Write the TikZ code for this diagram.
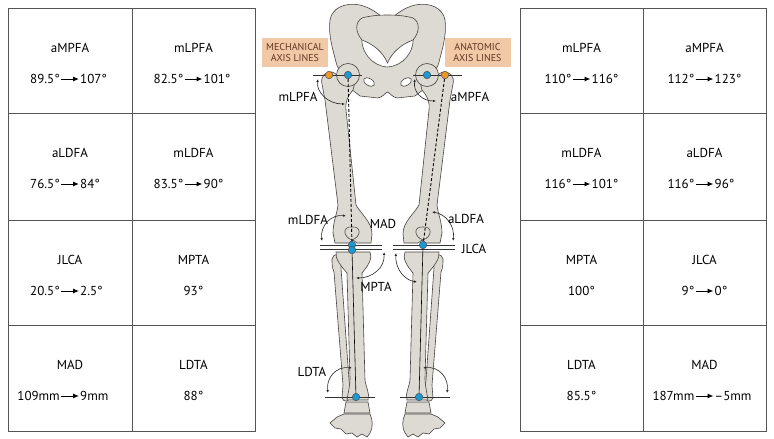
\documentclass[tikz,border=0pt]{standalone}
\usepackage{fontspec}
\setmainfont{PT Sans}
\usetikzlibrary{arrows.meta,positioning,calc}
\definecolor{bonefill}{RGB}{221,218,211}
\definecolor{boneline}{RGB}{70,67,65}
\definecolor{gridgray}{RGB}{85,85,85}
\definecolor{peach}{RGB}{242,201,167}
\definecolor{boxtext}{RGB}{95,55,35}
\definecolor{jointblue}{RGB}{28,152,210}
\definecolor{trochorange}{RGB}{236,152,40}
\tikzset{
    lbl/.style = {font=\fontsize{13}{15}\selectfont, text=black, inner sep=1pt},
    val/.style = {font=\fontsize{13}{15}\selectfont, text=black, inner sep=1pt},
    tarrow/.style = {-{Latex[length=6pt,width=5pt]}, line width=1pt},
    tablegrid/.style = {draw=gridgray, line width=0.9pt},
    bone/.style = {fill=bonefill, draw=boneline, line width=0.6pt},
    hole/.style = {fill=white, draw=boneline, line width=0.6pt},
    axisline/.style = {draw=black!80, line width=0.8pt},
    axisdash/.style = {draw=black, line width=0.9pt, dash pattern=on 3pt off 2pt},
    joint/.style = {circle, fill=jointblue, draw=black!70, line width=0.5pt, minimum size=7.5pt, inner sep=0pt},
    troch/.style = {joint, fill=trochorange},
    angarrow/.style = {{Latex[length=3pt,width=2.5pt]}-{Latex[length=3pt,width=2.5pt]}, line width=0.6pt, black!85},
    axisbox/.style = {fill=peach, text=boxtext, align=center, minimum width=66pt,
        minimum height=29pt, inner sep=1pt, font=\fontsize{10}{11}\selectfont}
}
% cell with a change: name, x, top, label, from, to
\newcommand{\valcell}[6]{%
    \node[lbl] (#1) at (#2,#3+40) {#4};
    \node[val,anchor=east] (#1from) at (#2-9,#3+71) {#5};
    \node[val,anchor=west] (#1to) at (#2+9,#3+71) {#6};
    \draw[tarrow] (#1from) -- (#1to);}
% cell with one value
\newcommand{\onecell}[5]{%
    \node[lbl] (#1) at (#2,#3+40) {#4};
    \node[val] (#1val) at (#2,#3+71) {#5};}
% bones of the left leg, mirrored for the right one
\newcommand{\legbones}{%
    \path[bone] (322,84) .. controls (320,76) and (326,71) .. (332,72) .. controls (337,73) and (339,78) .. (340,83)
        -- (343,72) -- (356,78) -- (353,90) .. controls (348,96) and (345,101) .. (346,110) -- (356,205)
        .. controls (361,214) and (372,222) .. (372,234) -- (371,243) -- (357,243) -- (353,240) -- (349,243)
        -- (335,243) -- (333,233) .. controls (333,222) and (337,214) .. (338,205) -- (325,100) -- cycle;
    \draw[boneline, line width=0.6pt] (352,240) .. controls (343,237) and (342,226) .. (352,227)
        .. controls (362,226) and (361,237) .. (352,240);
    \path[bone] (332,259) .. controls (333,253) and (341,253) .. (342,258) -- (341,268) -- (349,380) -- (351,396)
        .. controls (349,402) and (344,403) .. (342,398) -- (343,385) -- (334,272) .. controls (332,268) and (332,263) .. (332,259) -- cycle;
    \path[bone] (336,252) -- (370,252) .. controls (373,258) and (368,266) .. (362,273) -- (365,380)
        .. controls (366,388) and (370,393) .. (368,400) -- (347,400) .. controls (348,393) and (350,386) .. (350,378)
        -- (347,273) .. controls (341,266) and (335,259) .. (336,252) -- cycle;
    \path[bone] (346,402) -- (368,402) -- (370,413) -- (344,413) -- cycle;
    \path[bone] (344,414) -- (370,414) .. controls (373,420) and (373,428) .. (370,433) -- (367,437) -- (362,434)
        -- (357,437) -- (352,433) -- (346,434) -- (341,429) -- (335,428) -- (330,423) -- (337,417) -- cycle;}

\begin{document}
\begin{tikzpicture}[x=1pt, y=-1pt]
    \path[fill=white, use as bounding box] (0,0) rectangle (774,439);
    % left table
    \draw[tablegrid] (8,8) rectangle (255,431);
    \draw[tablegrid] (132,8) -- (132,431);
    \foreach \y in {113,220,325} \draw[tablegrid] (8,\y) -- (255,\y);
    \valcell{laMPFA}{70}{8}{aMPFA}{89.5°}{107°}
    \valcell{lmLPFA}{193.5}{8}{mLPFA}{82.5°}{101°}
    \valcell{laLDFA}{70}{113}{aLDFA}{76.5°}{84°}
    \valcell{lmLDFA}{193.5}{113}{mLDFA}{83.5°}{90°}
    \valcell{lJLCA}{70}{220}{JLCA}{20.5°}{2.5°}
    \onecell{lMPTA}{193.5}{220}{MPTA}{93°}
    \valcell{lMAD}{70}{325}{MAD}{109mm}{9mm}
    \onecell{lLDTA}{193.5}{325}{LDTA}{88°}
    % right table
    \draw[tablegrid] (520,8) rectangle (766,431);
    \draw[tablegrid] (643,8) -- (643,431);
    \foreach \y in {113,220,325} \draw[tablegrid] (520,\y) -- (766,\y);
    \valcell{rmLPFA}{581.5}{8}{mLPFA}{110°}{116°}
    \valcell{raMPFA}{704.5}{8}{aMPFA}{112°}{123°}
    \valcell{rmLDFA}{581.5}{113}{mLDFA}{116°}{101°}
    \valcell{raLDFA}{704.5}{113}{aLDFA}{116°}{96°}
    \onecell{rMPTA}{581.5}{220}{MPTA}{100°}
    \valcell{rJLCA}{704.5}{220}{JLCA}{9°}{0°}
    \onecell{rLDTA}{581.5}{325}{LDTA}{85.5°}
    \valcell{rMAD}{704.5}{325}{MAD}{187mm}{–5mm}
    % pelvis
    \path[bone] (387.5,22) .. controls (380,15) and (372,8) .. (360,5) .. controls (345,2) and (332,8) .. (330,20)
        .. controls (328,35) and (333,50) .. (336,62) .. controls (337,66) and (338,68) .. (340,70) -- (342,84)
        .. controls (350,88) and (355,92) .. (360,96) -- (378,98) .. controls (383,97) and (385,93) .. (387.5,92)
        .. controls (390,93) and (392,97) .. (397,98) -- (415,96) .. controls (420,92) and (425,88) .. (433,84)
        -- (435,70) .. controls (437,68) and (438,66) .. (439,62) .. controls (442,50) and (447,35) .. (445,20)
        .. controls (443,8) and (430,2) .. (415,5) .. controls (403,8) and (395,15) .. (387.5,22) -- cycle;
    \path[hole] (362,35) .. controls (360,52) and (372,66) .. (387.5,67) .. controls (403,66) and (415,52) .. (413,35) -- cycle;
    \path[bone] (362,18) .. controls (375,14) and (400,14) .. (413,18) .. controls (420,22) and (420,32) .. (413,40)
        .. controls (402,44) and (392,52) .. (387.5,63) .. controls (383,52) and (373,44) .. (362,40)
        .. controls (355,32) and (355,22) .. (362,18) -- cycle;
    \path[hole, rotate around={-30:(369,82)}] (369,82) ellipse (6 and 3.5);
    \path[hole, rotate around={30:(406,82)}] (406,82) ellipse (6 and 3.5);
    % legs
    \legbones
    \begin{scope}[shift={(775,0)}, xscale=-1]
        \legbones
    \end{scope}
    \foreach \hx in {348,427} \path[bone] (\hx,75) circle (11.5);
    % axis lines
    \coordinate (hipLa) at (313,75);  \coordinate (hipLb) at (362,75);
    \coordinate (hipRa) at (413,75);  \coordinate (hipRb) at (462,75);
    \draw[axisline] (hipLa) -- (hipLb);
    \draw[axisline] (hipRa) -- (hipRb);
    \foreach \ky in {245,249.5} {
        \draw[axisline] (320,\ky) -- (382,\ky);
        \draw[axisline] (393,\ky) -- (455,\ky);}
    \coordinate (ankLa) at (325,397); \coordinate (ankLb) at (375,397);
    \coordinate (ankRa) at (400,397); \coordinate (ankRb) at (450,397);
    \draw[axisline] (ankLa) -- (ankLb);
    \draw[axisline] (ankRa) -- (ankRb);
    % joint centres
    \node[joint] (hipL) at (348,75) {};
    \node[joint] (hipR) at (427,75) {};
    \node[troch] (trochL) at (329,75) {};
    \node[troch] (trochR) at (445,75) {};
    \node[joint] (kneeL) at (352,245) {};
    \node[joint] (kneeL2) at (352,250) {};
    \node[joint] (kneeR) at (423,245) {};
    \node[joint] (ankL) at (356,397) {};
    \node[joint] (ankR) at (419,397) {};
    \draw[axisdash] (hipL) -- (kneeL);
    \draw[axisdash] (trochR) -- (kneeR);
    \draw[line width=0.6pt] (kneeL2) -- (ankL);
    \draw[line width=0.6pt] (kneeR) -- (ankR);
    % boxes
    \node[axisbox] (mechbox) at (295,52.5) {MECHANICAL\\AXIS LINES};
    \node[axisbox] (anatbox) at (477.5,52.5) {ANATOMIC\\AXIS LINES};
    % angles
    \draw[angarrow] (318,79) .. controls (316,92) and (328,104) .. (345,104);
    \draw[angarrow] (415,79) .. controls (413,92) and (422,101) .. (436,101);
    \draw[angarrow] (346,216) .. controls (332,214) and (320,225) .. (322,241);
    \draw[angarrow] (432,212) .. controls (446,214) and (455,226) .. (453,241);
    \draw[angarrow] (384,252) .. controls (385,268) and (372,278) .. (356,278);
    \draw[angarrow] (396,253) .. controls (395,268) and (404,280) .. (417,282);
    \draw[angarrow] (352,368) .. controls (336,366) and (326,378) .. (328,393);
    \draw[angarrow] (423,368) .. controls (439,366) and (449,378) .. (447,393);
    % angle labels
    \node[lbl] (tmLPFA) at (298,97) {mLPFA};
    \node[lbl] (taMPFA) at (470,97) {aMPFA};
    \node[lbl] (tmLDFA) at (308,220) {mLDFA};
    \node[lbl] (tMAD) at (383,224) {MAD};
    \node[lbl] (taLDFA) at (466,219) {aLDFA};
    \node[lbl] (tJLCA) at (474,249) {JLCA};
    \node[lbl] (tMPTA) at (376,287) {MPTA};
    \node[lbl] (tLDTA) at (312,372) {LDTA};
\end{tikzpicture}
\end{document}
